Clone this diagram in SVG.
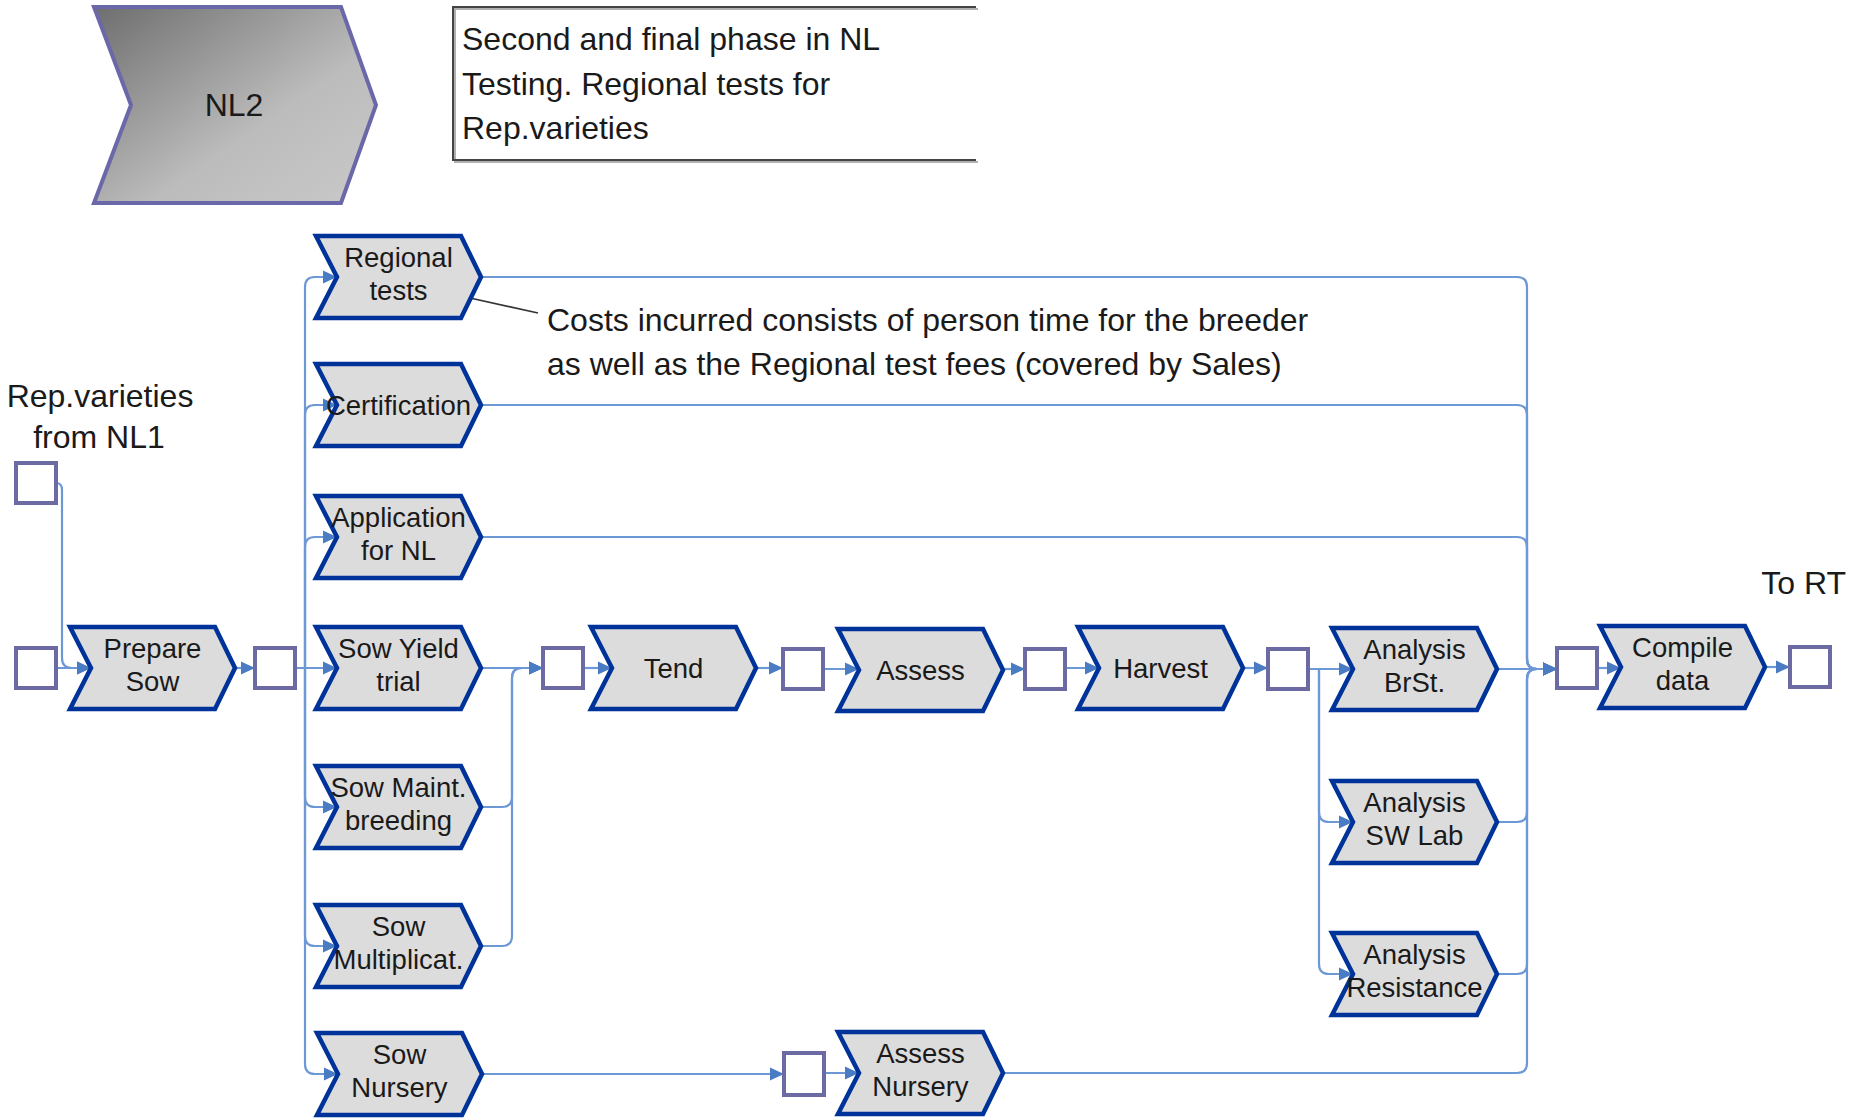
<svg xmlns="http://www.w3.org/2000/svg" width="1849" height="1118" viewBox="0 0 1849 1118">
  <style>
    .step { fill: #dcdcdc; stroke: #003399; stroke-width: 4.5; stroke-linejoin: miter; }
    .event { fill: #ffffff; stroke: #6c6aa2; stroke-width: 4; }
    .lbl { font-family: "Liberation Sans", Arial, sans-serif; font-size: 27.5px; fill: #1a1a1a; text-anchor: middle; }
    .note { font-family: "Liberation Sans", Arial, sans-serif; font-size: 32px; fill: #1a1a1a; }
    .flow { fill: none; stroke: #6d98d6; stroke-width: 2.2; marker-end: url(#arr); }
  </style>
  <defs>
    <marker id="arr" markerUnits="userSpaceOnUse" markerWidth="14" markerHeight="14" refX="14" refY="7" orient="auto">
      <path d="M0,0.5 L14,7 L0,13.5 z" fill="#4a7cc4"/>
    </marker>
    <linearGradient id="phaseFill" x1="0" y1="0" x2="1" y2="1">
      <stop offset="0" stop-color="#6e6e6e"/>
      <stop offset="0.6" stop-color="#bcbcbc"/>
      <stop offset="1" stop-color="#c9c9c9"/>
    </linearGradient>
    <polygon id="chev" points="0,-41 145,-41 165,0 145,41 0,41 21,0"/>
  </defs>

  <rect width="1849" height="1118" fill="#ffffff"/>

  <!-- phase header -->
  <g id="phase-nl2">
    <polygon points="94,7 341,7 376,105 341,203 94,203 131,105" fill="url(#phaseFill)" stroke="#6a68a8" stroke-width="4"/>
    <text x="234" y="116" class="note" font-size="34" text-anchor="middle">NL2</text>
  </g>

  <g id="phase-description">
    <path d="M978,9 H455 V162 H978" fill="none" stroke="#b0b0b0" stroke-width="2"/>
    <path d="M976,7 H453 V160 H976" fill="none" stroke="#444444" stroke-width="2"/>
    <text class="note"><tspan x="462" y="50">Second and final phase in NL</tspan><tspan x="462" y="95">Testing. Regional tests for</tspan><tspan x="462" y="139">Rep.varieties</tspan></text>
  </g>

  <g id="cost-note">
    <line x1="470" y1="298" x2="538" y2="313" stroke="#333333" stroke-width="1.6"/>
    <text class="note"><tspan x="547" y="331">Costs incurred consists of person time for the breeder</tspan><tspan x="547" y="375">as well as the Regional test fees (covered by Sales)</tspan></text>
  </g>

  <g id="label-input">
    <text class="note" text-anchor="middle"><tspan x="100" y="407">Rep.varieties</tspan><tspan x="99" y="448">from NL1</tspan></text>
  </g>
  <g id="label-output">
    <text class="note" x="1846" y="594" text-anchor="end">To RT</text>
  </g>

  <!-- connectors -->
  <g id="connectors">
    <path class="flow" d="M56,668 H91"/>
    <path class="flow" d="M56,483 Q62,483 62,490 V658 Q62,668 72,668 H91"/>
    <path class="flow" d="M235,668 H255"/>

    <path class="flow" d="M295,668 H305 V287 Q305,277 315,277 H337"/>
    <path class="flow" d="M295,668 H305 V415 Q305,405 315,405 H337"/>
    <path class="flow" d="M295,668 H305 V547 Q305,537 315,537 H337"/>
    <path class="flow" d="M295,668 H337"/>
    <path class="flow" d="M295,668 H305 V797 Q305,807 315,807 H337"/>
    <path class="flow" d="M295,668 H305 V936 Q305,946 315,946 H337"/>
    <path class="flow" d="M295,668 H305 V1064 Q305,1074 315,1074 H338"/>

    <path class="flow" d="M482,668 H543"/>
    <path class="flow" d="M482,807 H502 Q512,807 512,797 V678 Q512,668 522,668 H543"/>
    <path class="flow" d="M482,946 H502 Q512,946 512,936 V678 Q512,668 522,668 H543"/>

    <path class="flow" d="M583,668 H612"/>
    <path class="flow" d="M754,668 H783"/>
    <path class="flow" d="M823,669 H859"/>
    <path class="flow" d="M1003,669 H1025"/>
    <path class="flow" d="M1065,668 H1099"/>
    <path class="flow" d="M1242,668 H1268"/>

    <path class="flow" d="M1308,669 H1353"/>
    <path class="flow" d="M1308,669 H1319 V812 Q1319,822 1329,822 H1353"/>
    <path class="flow" d="M1308,669 H1319 V964 Q1319,974 1329,974 H1353"/>

    <path class="flow" d="M1497,669 H1557"/>
    <path class="flow" d="M481,277 H1517 Q1527,277 1527,287 V659 Q1527,669 1537,669 H1557"/>
    <path class="flow" d="M481,405 H1517 Q1527,405 1527,415 V659 Q1527,669 1537,669 H1557"/>
    <path class="flow" d="M481,537 H1517 Q1527,537 1527,547 V659 Q1527,669 1537,669 H1557"/>
    <path class="flow" d="M1497,822 H1517 Q1527,822 1527,812 V679 Q1527,669 1537,669 H1557"/>
    <path class="flow" d="M1497,974 H1517 Q1527,974 1527,964 V679 Q1527,669 1537,669 H1557"/>
    <path class="flow" d="M1003,1073 H1517 Q1527,1073 1527,1063 V679 Q1527,669 1537,669 H1557"/>

    <path class="flow" d="M482,1074 H784"/>
    <path class="flow" d="M824,1073 H859"/>

    <path class="flow" d="M1597,668 H1621"/>
    <path class="flow" d="M1765,667 H1790"/>
  </g>

  <!-- events -->
  <g id="ev-from-nl1"><rect class="event" x="16" y="463" width="40" height="40"/></g>
  <g id="ev-start"><rect class="event" x="16" y="648" width="40" height="40"/></g>
  <g id="ev-sow-ready"><rect class="event" x="255" y="648" width="40" height="40"/></g>
  <g id="ev-sown"><rect class="event" x="543" y="648" width="40" height="40"/></g>
  <g id="ev-tended"><rect class="event" x="783" y="649" width="40" height="40"/></g>
  <g id="ev-assessed"><rect class="event" x="1025" y="649" width="40" height="40"/></g>
  <g id="ev-harvested"><rect class="event" x="1268" y="649" width="40" height="40"/></g>
  <g id="ev-analysed"><rect class="event" x="1557" y="648" width="40" height="40"/></g>
  <g id="ev-to-rt"><rect class="event" x="1790" y="647" width="40" height="40"/></g>
  <g id="ev-nursery"><rect class="event" x="784" y="1053" width="40" height="42"/></g>

  <!-- process steps -->
  <g id="prepare-sow" transform="translate(70,668)">
    <use href="#chev" class="step"/>
    <text class="lbl"><tspan x="82.5" y="-10">Prepare</tspan><tspan x="82.5" y="23">Sow</tspan></text>
  </g>
  <g id="regional-tests" transform="translate(316,277)">
    <use href="#chev" class="step"/>
    <text class="lbl"><tspan x="82.5" y="-10">Regional</tspan><tspan x="82.5" y="23">tests</tspan></text>
  </g>
  <g id="certification" transform="translate(316,405)">
    <use href="#chev" class="step"/>
    <text class="lbl" x="82.5" y="10">Certification</text>
  </g>
  <g id="application-nl" transform="translate(316,537)">
    <use href="#chev" class="step"/>
    <text class="lbl"><tspan x="82.5" y="-10">Application</tspan><tspan x="82.5" y="23">for NL</tspan></text>
  </g>
  <g id="sow-yield-trial" transform="translate(316,668)">
    <use href="#chev" class="step"/>
    <text class="lbl"><tspan x="82.5" y="-10">Sow Yield</tspan><tspan x="82.5" y="23">trial</tspan></text>
  </g>
  <g id="sow-maint-breeding" transform="translate(316,807)">
    <use href="#chev" class="step"/>
    <text class="lbl"><tspan x="82.5" y="-10">Sow Maint.</tspan><tspan x="82.5" y="23">breeding</tspan></text>
  </g>
  <g id="sow-multiplicat" transform="translate(316,946)">
    <use href="#chev" class="step"/>
    <text class="lbl"><tspan x="82.5" y="-10">Sow</tspan><tspan x="82.5" y="23">Multiplicat.</tspan></text>
  </g>
  <g id="sow-nursery" transform="translate(317,1074)">
    <use href="#chev" class="step"/>
    <text class="lbl"><tspan x="82.5" y="-10">Sow</tspan><tspan x="82.5" y="23">Nursery</tspan></text>
  </g>
  <g id="tend" transform="translate(591,668)">
    <use href="#chev" class="step"/>
    <text class="lbl" x="82.5" y="10">Tend</text>
  </g>
  <g id="assess" transform="translate(838,670)">
    <use href="#chev" class="step"/>
    <text class="lbl" x="82.5" y="10">Assess</text>
  </g>
  <g id="harvest" transform="translate(1078,668)">
    <use href="#chev" class="step"/>
    <text class="lbl" x="82.5" y="10">Harvest</text>
  </g>
  <g id="analysis-brst" transform="translate(1332,669)">
    <use href="#chev" class="step"/>
    <text class="lbl"><tspan x="82.5" y="-10">Analysis</tspan><tspan x="82.5" y="23">BrSt.</tspan></text>
  </g>
  <g id="analysis-swlab" transform="translate(1332,822)">
    <use href="#chev" class="step"/>
    <text class="lbl"><tspan x="82.5" y="-10">Analysis</tspan><tspan x="82.5" y="23">SW Lab</tspan></text>
  </g>
  <g id="analysis-resistance" transform="translate(1332,974)">
    <use href="#chev" class="step"/>
    <text class="lbl"><tspan x="82.5" y="-10">Analysis</tspan><tspan x="82.5" y="23">Resistance</tspan></text>
  </g>
  <g id="assess-nursery" transform="translate(838,1073)">
    <use href="#chev" class="step"/>
    <text class="lbl"><tspan x="82.5" y="-10">Assess</tspan><tspan x="82.5" y="23">Nursery</tspan></text>
  </g>
  <g id="compile-data" transform="translate(1600,667)">
    <use href="#chev" class="step"/>
    <text class="lbl"><tspan x="82.5" y="-10">Compile</tspan><tspan x="82.5" y="23">data</tspan></text>
  </g>
</svg>
